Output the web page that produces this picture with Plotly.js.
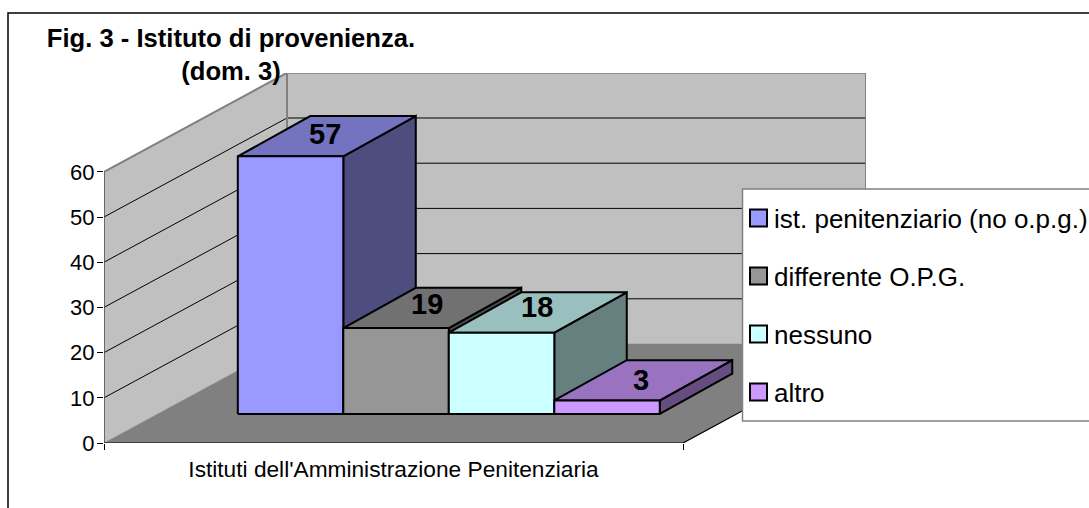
<!DOCTYPE html>
<html>
<head>
<meta charset="utf-8">
<script src="https://cdn.plot.ly/plotly-3.0.1.min.js"></script>
<style>html,body{margin:0;padding:0;background:#fff;overflow:hidden}</style>
</head>
<body>
<div id="chart" style="width:1089px;height:508px"></div>
<script>
const categories = ["ist. penitenziario (no o.p.g.)", "differente O.P.G.", "nessuno", "altro"];
const values = [57, 19, 18, 3];
const frontColors = [[153,153,255],[150,150,150],[204,255,255],[204,153,255]];
const yTicks = [0,10,20,30,40,50,60];
const axisLabel = "Istituti dell'Amministrazione Penitenziaria";
const titleText = "Fig. 3 - Istituto di provenienza.<br>(dom. 3)";
const labelNudgeX = [-3,-6,-2,-3];
const labelNudgeY = [2,4,5,0];

// oblique projection of the 3D box onto the 2D axes
const W=1089,H=508,L=104,T=73,R=866,B=443;
const unitX=579, unitY=4.52;
const DX=183/unitX, DY=99/unitY;
const maxV=60;
const barStart=0.1385, barW=0.1822, d0=0.293, d1=0.70, barSkew=0.0085;
const FONT='"Liberation Sans", Arial, sans-serif';
const p=(x,d,v)=>[x+d*DX, v+d*DY];
const xb=(x,d)=>x-(d-d0)*barSkew;
const rgb=(c,k)=>`rgb(${c.map(a=>Math.round(a*k)).join(',')})`;
const traces=[];
function poly(pts,fill,line,width,name){
  const xy=pts.map(a=>p(...a));
  if(fill) xy.push(xy[0]);
  traces.push({type:'scatter',mode:'lines',x:xy.map(a=>a[0]),y:xy.map(a=>a[1]),
    fill:fill?'toself':'none',fillcolor:fill||undefined,
    line:{color:line,width:width},cliponaxis:false,showlegend:false,hoverinfo:'skip',name:name||''});
}
// walls and floor
poly([[0,0,0],[0,1,0],[1,1,0],[1,0,0]],'#808080','#808080',0.5);
poly([[0,0,0],[0,0,maxV],[0,1,maxV],[0,1,0]],'#C0C0C0','#808080',0.5);
poly([[0,1,0],[0,1,maxV],[1,1,maxV],[1,1,0]],'#C0C0C0','#808080',0.5);
yTicks.filter(v=>v>0&&v<maxV).forEach(v=>{
  poly([[0,0,v],[0,1,v],[1,1,v]],null,'#000',1);
});
poly([[0,0,maxV],[0,1,maxV],[1,1,maxV],[1,1,0]],null,'#808080',2);
poly([[0,1,maxV],[0,1,0]],null,'#808080',2);
poly([[0,0,0],[0,0,maxV]],null,'#505050',1.5);
poly([[0,0,0],[1,0,0],[1,1,0]],null,'#000',1.2);
// bars
values.forEach((v,i)=>{
  const a=barStart+i*barW,b=a+barW,c=frontColors[i];
  poly([[b,d0,0],[xb(b,d1),d1,0],[xb(b,d1),d1,v],[b,d0,v]],rgb(c,0.5),'#000',2,categories[i]);
  poly([[a,d0,v],[xb(a,d1),d1,v],[xb(b,d1),d1,v],[b,d0,v]],rgb(c,0.75),'#000',2,categories[i]);
  poly([[a,d0,0],[a,d0,v],[b,d0,v],[b,d0,0]],rgb(c,1),'#000',2,categories[i]);
});
// value labels, centred on the top face of each bar
const annotations=values.map((v,i)=>{
  const q=p(barStart+(i+0.5)*barW,(d0+d1)/2,v);
  return {x:q[0],y:q[1],xref:'x',yref:'y',text:String(v),showarrow:false,
    xshift:labelNudgeX[i],yshift:labelNudgeY[i],
    xanchor:'center',yanchor:'middle',font:{family:FONT,size:29,color:'#000',weight:700}};
});
// legend panel
const px=x=>(x-L)/(R-L), py=y=>(B-y)/(B-T);
const shapes=[{type:'rect',xref:'paper',yref:'paper',x0:px(8),x1:px(1200),y0:py(13),y1:py(600),
  line:{color:'#000',width:1.5},fillcolor:'rgba(0,0,0,0)',layer:'above'},
  {type:'rect',xref:'paper',yref:'paper',x0:px(742.5),x1:px(1200),y0:py(189),y1:py(421),
  line:{color:'#808080',width:1.5},fillcolor:'#fff',layer:'above'}];
const legendY=[218,276,334,392];
categories.forEach((n,i)=>{
  shapes.push({type:'rect',xref:'paper',yref:'paper',x0:px(750),x1:px(767),y0:py(legendY[i]-8.5),y1:py(legendY[i]+8.5),
    line:{color:'#000',width:2},fillcolor:rgb(frontColors[i],1),layer:'above'});
  annotations.push({xref:'paper',yref:'paper',x:px(772),y:py(legendY[i]+1),text:n,showarrow:false,
    xanchor:'left',yanchor:'middle',font:{family:FONT,size:26,color:'#000'}});
});
const layout={width:W,height:H,margin:{l:L,r:W-R,t:T,b:H-B,pad:0},showlegend:false,
  paper_bgcolor:'#fff',plot_bgcolor:'rgba(0,0,0,0)',
  title:{text:titleText,x:231/W,xanchor:'center',xref:'container',y:1-47/H,yanchor:'top',font:{family:FONT,size:25.6,color:'#000',weight:700}},
  xaxis:{range:[0,1+DX],tickvals:[0.5],ticktext:[axisLabel],ticks:'',showgrid:false,zeroline:false,showline:false,
    tickfont:{family:FONT,size:22.7,color:'#000'},ticklabelstandoff:10,fixedrange:true,
    minor:{tickvals:[0,1],ticks:'outside',ticklen:6,tickwidth:1,tickcolor:'#000',showgrid:false}},
  yaxis:{range:[0,(B-T)/unitY],tickvals:yTicks,ticks:'outside',ticklen:6,tickwidth:1,tickcolor:'#000',ticklabelstandoff:-2,
    showgrid:false,zeroline:false,showline:false,tickfont:{family:FONT,size:22,color:'#000'},fixedrange:true},
  shapes,annotations};
Plotly.newPlot('chart',traces,layout,{displayModeBar:false,staticPlot:true});
</script>
</body>
</html>
